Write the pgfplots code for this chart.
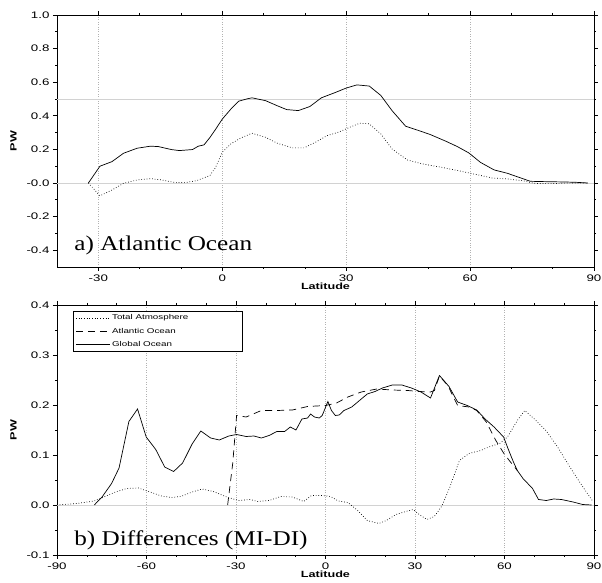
\documentclass[border=0pt]{standalone}
\usepackage{fontspec}
\setmainfont{Liberation Sans}[FakeStretch=1.4]
\newfontfamily\timesfont{Liberation Serif}[FakeStretch=1.2]
\usepackage{pgfplots}
\pgfplotsset{compat=1.18}

\pgfplotsset{
  panel/.style={
    scale only axis,
    width=537pt,
    anchor=south west,
    axis line style={line width=0.8pt},
    tick align=outside,
    major tick length=4pt,
    minor tick length=2pt,
    tick style={black, line width=0.6pt},
    xtick pos=both, ytick pos=both,
    xticklabel pos=lower, yticklabel pos=left,
    minor x tick num=2,
    xmajorgrids,
    major grid style={gray!60, dotted, line width=0.4pt},
    tick label style={font=\fontsize{9.5}{11}\selectfont},
    /pgf/number format/assume math mode=true,
    xlabel={Latitude},
    ylabel={PW},
    xlabel style={font=\bfseries\fontsize{9}{10}\selectfont, yshift=5pt},
    ylabel style={font=\bfseries\fontsize{9}{10}\selectfont, yshift=3pt},
    clip=false,
  },
  zeroline/.style={gray!35, line width=0.9pt, forget plot},
}
\tikzset{
  paneltitle/.style={anchor=base west, inner sep=0pt,
    font=\timesfont\fontsize{21}{23}\selectfont},
}

\begin{document}
\begin{tikzpicture}
\useasboundingbox (0,0) rectangle (602pt,583pt);

% a) Atlantic Ocean
\begin{axis}[panel,
  at={(57pt,316pt)}, height=252pt,
  xmin=-40, xmax=90, ymin=-0.5, ymax=1.0,
  xtick={-30,0,30,60,90},
  ytick={-0.4,-0.2,0,0.2,0.4,0.6,0.8,1.0},
  yticklabels={-0.4,-0.2,-0.0,0.2,0.4,0.6,0.8,1.0},
  minor y tick num=1,
]
\addplot[zeroline] coordinates {(-40,0) (90,0)};
\addplot[zeroline] coordinates {(-40,0.5) (90,0.5)};
% ocean heat transport
\addplot[black, line width=0.7pt] coordinates {
(-32.4,0.0) (-29.6,0.10) (-26.7,0.127) (-23.9,0.177) (-20.6,0.207) (-17.4,0.219)
(-15.5,0.217) (-12.3,0.199) (-10.4,0.193) (-7.2,0.199) (-5.8,0.219) (-4.4,0.227)
(-3.0,0.27) (-1.6,0.32) (0,0.38) (2.1,0.44) (4.0,0.487) (5.9,0.50) (7.2,0.507)
(10.5,0.49) (13.3,0.46) (15.6,0.437) (18.4,0.431) (21.2,0.455) (24.0,0.507)
(27.2,0.537) (30.0,0.565) (32.6,0.584) (35.6,0.577) (38.4,0.521) (41.1,0.431)
(44.4,0.338) (47.6,0.312) (50.4,0.288) (54.1,0.249) (56.9,0.217) (59.7,0.179)
(62.5,0.123) (65.8,0.078) (69.0,0.058) (71.8,0.034) (74.6,0.01) (78.3,0.008)
(82.9,0.006) (85.7,0.004) (88.5,0.0)
};
% dotted curve
\addplot[black, dotted, line width=0.7pt] coordinates {
(-32.4,0.0) (-29.6,-0.076) (-26.7,-0.042) (-23.9,-0.002) (-20.6,0.018) (-17.4,0.026)
(-14.6,0.018) (-11.8,0.004) (-9.0,0.002) (-6.2,0.014) (-3.0,0.044) (-1.6,0.093)
(0,0.183) (2.1,0.233) (4.5,0.268) (7.2,0.296) (10.5,0.272) (13.3,0.237) (17.0,0.209)
(19.8,0.209) (22.6,0.243) (25.4,0.282) (28.1,0.302) (30.9,0.332) (33.3,0.356)
(35.6,0.352) (38.4,0.292) (41.1,0.203) (44.8,0.137) (48.6,0.113) (53.2,0.093)
(57.8,0.07) (61.6,0.05) (65.3,0.03) (69.0,0.024) (72.7,0.014) (75.5,-0.002)
(79.2,-0.004) (83.8,0.0) (88.5,0.0)
};
\node[paneltitle] at (rel axis cs:0.032,0.065) {a) Atlantic Ocean};
\end{axis}

% b) Differences (MI-DI)
\begin{axis}[panel,
  at={(57pt,28pt)}, height=250pt,
  xmin=-90, xmax=90, ymin=-0.1, ymax=0.4,
  xtick={-90,-60,-30,0,30,60,90},
  ytick={-0.1,0,0.1,0.2,0.3,0.4},
  yticklabel style={/pgf/number format/.cd, fixed, fixed zerofill, precision=1},
  minor y tick num=1,
  legend style={at={(rel axis cs:0.03,0.976)}, anchor=north west,
    draw=black, line width=0.8pt, fill=white,
    font=\fontsize{7}{8}\selectfont, inner xsep=2pt, inner ysep=1.5pt,
    row sep=2.5pt},
  legend cell align=left,
  legend image code/.code={\draw[#1, line width=0.6pt] (0pt,0pt) -- (34pt,0pt);},
]
\addplot[zeroline] coordinates {(-90,0) (90,0)};
\addplot[black, dotted, line width=0.7pt] coordinates {
(-90,0.0) (-83.3,0.003) (-77.5,0.008) (-74.3,0.016) (-70.4,0.026) (-66.6,0.033)
(-62.7,0.034) (-58.8,0.026) (-55.0,0.018) (-51.7,0.015) (-48.5,0.017) (-44.7,0.026)
(-41.4,0.032) (-37.6,0.027) (-33.1,0.016) (-29.2,0.009) (-25.3,0.011) (-22.7,0.007)
(-18.9,0.009) (-15.0,0.017) (-11.1,0.016) (-7.3,0.007) (-4.7,0.019) (-0.8,0.019)
(1.7,0.017) (4.3,0.008) (7.5,0.005) (10.8,-0.011) (14.0,-0.031) (17.9,-0.037)
(20.4,-0.031) (23.6,-0.019) (26.9,-0.013) (29.4,-0.009) (31.4,-0.019) (34.0,-0.029)
(36.5,-0.023) (39.1,-0.001) (41.7,0.036) (44.9,0.089) (48.1,0.103) (52.0,0.109)
(55.2,0.117) (58.4,0.123) (61.0,0.136) (64.3,0.169) (66.8,0.189) (70.0,0.172)
(73.9,0.149) (77.8,0.116) (81.6,0.079) (85.5,0.043) (89.4,0.009)
};
\addlegendentry{Total Atmosphere\rule{50pt}{0pt}}
\addplot[black, dash pattern=on 7pt off 5pt, line width=0.7pt] coordinates {
(-32.8,0.0) (-31.1,0.083) (-29.8,0.179) (-26.6,0.176) (-21.5,0.189) (-16.3,0.189)
(-11.1,0.190) (-6.0,0.197) (0,0.199) (3.7,0.204) (7.5,0.216) (12.0,0.226)
(17.2,0.232) (22.4,0.230) (27.5,0.229) (31.4,0.227) (35.2,0.226) (36.5,0.229)
(38.2,0.258) (41.0,0.239) (44.3,0.199) (48.1,0.196) (50.7,0.189) (53.9,0.166)
(57.1,0.129) (59.7,0.104) (61.6,0.089) (64.3,0.069)
};
\addlegendentry{Atlantic Ocean}
\addplot[black, line width=0.7pt] coordinates {
(-77.5,0.0) (-74.9,0.016) (-71.7,0.043) (-69.2,0.074) (-65.9,0.167) (-63.0,0.192)
(-60.1,0.136) (-56.9,0.111) (-53.9,0.076) (-50.9,0.067) (-47.9,0.084) (-44.7,0.122)
(-41.8,0.148) (-38.5,0.134) (-35.6,0.130) (-32.4,0.138) (-29.8,0.141) (-26.6,0.137)
(-24.0,0.138) (-21.5,0.134) (-18.9,0.139) (-16.3,0.147) (-13.7,0.147) (-11.8,0.156)
(-9.9,0.150) (-7.9,0.172) (-6.0,0.174) (-5.0,0.182) (-3.7,0.176) (-2.1,0.174)
(-1.1,0.179) (0.8,0.207) (2.0,0.189) (3.3,0.179) (4.6,0.180) (6.2,0.189)
(8.8,0.196) (11.4,0.209) (14.0,0.222) (16.6,0.227) (19.1,0.234) (22.4,0.240)
(25.6,0.240) (28.8,0.234) (32.0,0.226) (35.2,0.214) (38.2,0.259) (41.4,0.237)
(44.3,0.206) (47.5,0.199) (50.7,0.190) (53.5,0.172) (56.5,0.156) (59.7,0.136)
(61.3,0.111) (63.0,0.086) (64.3,0.069) (66.2,0.053) (69.4,0.033) (71.4,0.011)
(74.0,0.009) (76.5,0.012) (79.1,0.011) (83.0,0.006) (86.2,0.001) (89.2,0.0)
};
\addlegendentry{Global Ocean}
\node[paneltitle] at (rel axis cs:0.032,0.037) {b) Differences (MI-DI)};
\end{axis}
\end{tikzpicture}
\end{document}
